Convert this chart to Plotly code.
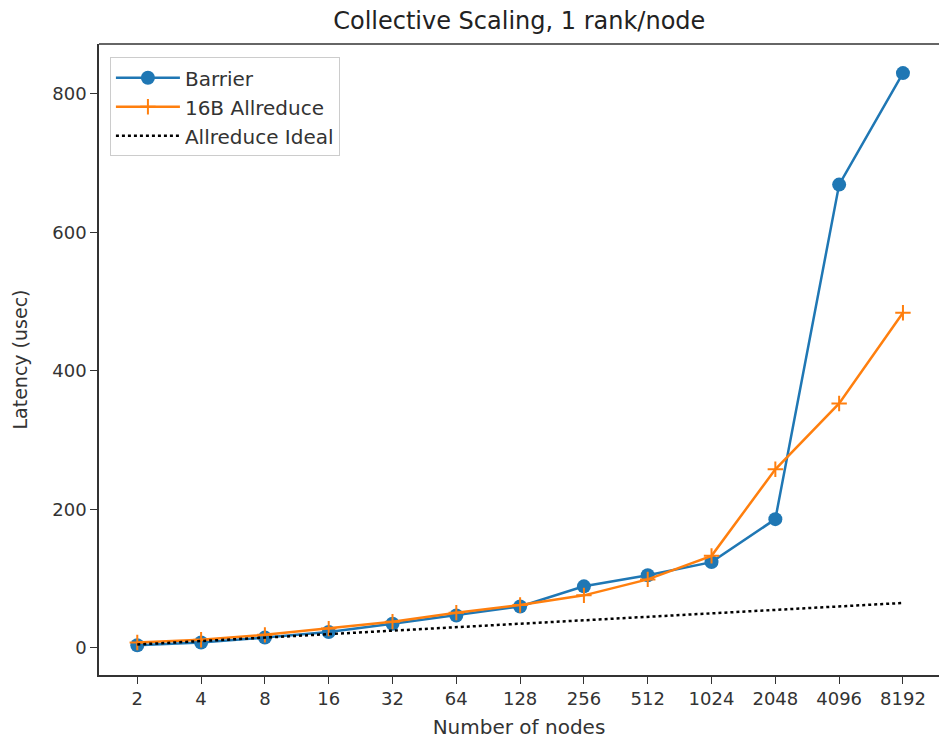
import plotly.graph_objects as go

nodes = ["2", "4", "8", "16", "32", "64", "128", "256", "512", "1024", "2048", "4096", "8192"]
barrier = [4, 8, 15, 23, 35, 47, 60, 89, 105, 124, 186, 669, 830]
allreduce = [8, 12, 19, 28, 38, 51, 62, 76, 99, 133, 258, 353, 484]
ideal = [5, 10, 15, 20, 25, 30, 35, 40, 45, 50, 55, 60, 65]
yticks = [0, 200, 400, 600, 800]

FONT = "DejaVu Sans"
fig = go.Figure()
fig.add_trace(go.Scatter(x=nodes, y=barrier, name="Barrier", mode="lines+markers",
                         line=dict(color="#1f77b4", width=2.5),
                         marker=dict(symbol="circle", size=14, color="#1f77b4")))
fig.add_trace(go.Scatter(x=nodes, y=allreduce, name="16B Allreduce", mode="lines+markers",
                         line=dict(color="#ff7f0e", width=2.5),
                         marker=dict(symbol="cross-thin", size=11,
                                     line=dict(color="#ff7f0e", width=2))))
fig.add_trace(go.Scatter(x=nodes, y=ideal, name="Allreduce Ideal", mode="lines",
                         line=dict(color="black", width=2.5, dash="dot")))

fig.update_layout(
    width=939, height=740,
    margin=dict(l=99, r=0, t=44, b=65),
    paper_bgcolor="white", plot_bgcolor="white",
    font=dict(family=FONT, size=18, color="#333333"),
    title=dict(text="Collective Scaling, 1 rank/node", x=0.553, xanchor="center",
               y=0.972, yanchor="middle", font=dict(size=24, color="#222222")),
    showlegend=True,
    legend=dict(x=0.013, y=0.979, xanchor="left", yanchor="top",
                bgcolor="rgba(255,255,255,0.8)", bordercolor="#cccccc", borderwidth=1,
                font=dict(size=20, color="#333333"), itemwidth=64,
                tracegroupgap=6),
)
fig.update_xaxes(type="category", range=[-0.6, 12.565], showgrid=False, zeroline=False,
                 showline=True, linecolor="#333333", linewidth=1.5,
                 ticks="outside", ticklen=7, tickcolor="#333333",
                 title=dict(text="Number of nodes", font=dict(size=20), standoff=12))
fig.update_yaxes(range=[-39, 872], showgrid=False, zeroline=False,
                 showline=True, linecolor="#333333", linewidth=1.5,
                 ticks="outside", ticklen=7, tickcolor="#333333",
                 tickvals=yticks, ticktext=[str(v) for v in yticks],
                 title=dict(text="Latency (usec)", font=dict(size=19), standoff=20))
fig.add_shape(type="line", xref="paper", yref="paper", x0=0, x1=1, y0=1, y1=1,
              line=dict(color="#333333", width=1.5))
fig.write_html("out.html")
